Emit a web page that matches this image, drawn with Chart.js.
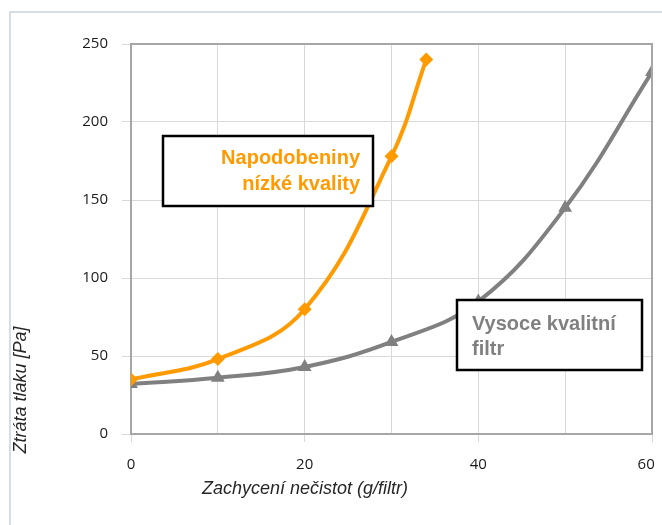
<!DOCTYPE html>
<html>
<head>
<meta charset="utf-8">
<script src="https://cdn.jsdelivr.net/npm/chart.js@4/dist/chart.umd.min.js"></script>
<style>
  html, body { margin: 0; padding: 0; background: #fff; }
  #wrap { position: relative; width: 662px; height: 525px; }
</style>
</head>
<body>
<div id="wrap"><canvas id="chart" width="662" height="525"></canvas></div>
<script>
// --- data ---
const fakeX = [0, 10, 20, 30, 34];
const fakeLoss = [35, 48, 80, 178, 240];
const goodX = [0, 10, 20, 30, 40, 50, 60];
const goodLoss = [32, 36, 43, 59, 85, 145, 232];
const xTickLabels = [0, 20, 40, 60];
const yTickLabels = [0, 50, 100, 150, 200, 250];

const fakeLabel = ["Napodobeniny", "nízké kvality"];
const goodLabel = ["Vysoce kvalitní", "filtr"];
const xTitle = "Zachycení nečistot (g/filtr)";
const yTitle = "Ztráta tlaku [Pa]";

const ORANGE = "#ff9a00";
const GREY = "#808080";
const GRID = "#d9d9d9";
const FRAME = "#a6a6a6";

function toPoints(xs, ys) {
  return xs.map(function (x, i) { return { x: x, y: ys[i] }; });
}

// frame, plot border, note boxes and axis titles
const decor = {
  id: "decor",
  beforeDraw(chart) {
    const ctx = chart.ctx;
    ctx.save();
    ctx.strokeStyle = "#d6dde4";
    ctx.lineWidth = 2;
    ctx.beginPath();
    ctx.moveTo(10, 525);
    ctx.lineTo(10, 12);
    ctx.lineTo(662, 12);
    ctx.stroke();
    ctx.restore();
  },
  afterDatasetsDraw(chart) {
    const ctx = chart.ctx;
    const a = chart.chartArea;
    ctx.save();
    // top + right plot border
    ctx.strokeStyle = FRAME;
    ctx.lineWidth = 2;
    ctx.beginPath();
    ctx.moveTo(a.left, a.top);
    ctx.lineTo(a.right, a.top);
    ctx.lineTo(a.right, a.bottom);
    ctx.stroke();

    function box(x, y, w, h) {
      ctx.fillStyle = "#fff";
      ctx.fillRect(x, y, w, h);
      ctx.strokeStyle = "#000";
      ctx.lineWidth = 2.5;
      ctx.strokeRect(x, y, w, h);
    }
    ctx.font = "bold 20px 'Liberation Sans', Arial, sans-serif";
    ctx.textBaseline = "middle";

    box(163, 136, 210, 70);
    ctx.fillStyle = ORANGE;
    ctx.textAlign = "right";
    ctx.fillText(fakeLabel[0], 360, 158);
    ctx.fillText(fakeLabel[1], 360, 184);

    box(457, 300, 185, 70);
    ctx.fillStyle = GREY;
    ctx.textAlign = "left";
    ctx.fillText(goodLabel[0], 472, 324);
    ctx.fillText(goodLabel[1], 472, 349);

    // axis titles
    ctx.fillStyle = "#262626";
    ctx.font = "italic 18px 'Liberation Sans', Arial, sans-serif";
    ctx.textAlign = "left";
    ctx.fillText(xTitle, 202, 489);
    ctx.translate(21, 390);
    ctx.rotate(-Math.PI / 2);
    ctx.textAlign = "center";
    ctx.fillText(yTitle, 0, 0);
    ctx.restore();
  }
};

const tickFont = { family: "'Open Sans', sans-serif", size: 15 };

new Chart(document.getElementById("chart"), {
  type: "line",
  data: {
    datasets: [
      {
        label: fakeLabel.join(" "),
        data: toPoints(fakeX, fakeLoss),
        borderColor: ORANGE,
        backgroundColor: ORANGE,
        borderWidth: 4,
        pointStyle: "rectRot",
        pointRadius: 7,
        pointBorderWidth: 0,
        tension: 0.4,
        order: 1
      },
      {
        label: goodLabel.join(" "),
        data: toPoints(goodX, goodLoss),
        borderColor: GREY,
        backgroundColor: GREY,
        borderWidth: 4,
        pointStyle: "triangle",
        pointRadius: 8,
        pointBorderWidth: 0,
        tension: 0.4,
        order: 2
      }
    ]
  },
  options: {
    responsive: false,
    devicePixelRatio: 1,
    animation: false,
    layout: { padding: { left: 0, top: 44, right: 10, bottom: 0 } },
    plugins: { legend: { display: false }, tooltip: { enabled: false } },
    scales: {
      x: {
        type: "linear",
        min: 0,
        max: 60,
        ticks: {
          stepSize: 10,
          autoSkip: false,
          maxRotation: 0,
          padding: 14,
          color: "#1a1a1a",
          font: tickFont,
          callback: function (v) {
            if (!xTickLabels.includes(v)) return "";
            // last label sits a bit inside the edge, like the original
            return v === xTickLabels[xTickLabels.length - 1] ? v + "   " : String(v);
          }
        },
        grid: {
          color: GRID,
          tickLength: 8,
          tickColor: function (c) {
            return c.tick && xTickLabels.includes(c.tick.value) ? GRID : "rgba(0,0,0,0)";
          }
        },
        border: { color: FRAME, width: 2 },
        afterFit: function (s) {
          s.height = 91;
          s.paddingLeft = 0;
          s.paddingRight = 0;
        }
      },
      y: {
        min: 0,
        max: 250,
        ticks: {
          stepSize: 50,
          padding: 14,
          color: "#1a1a1a",
          font: tickFont,
          callback: function (v) { return yTickLabels.includes(v) ? String(v) : ""; }
        },
        grid: { color: GRID, tickLength: 9 },
        border: { color: FRAME, width: 2 },
        afterFit: function (s) {
          s.width = 131;
          s.paddingTop = 0;
          s.paddingBottom = 0;
        }
      }
    }
  },
  plugins: [decor]
});
</script>
</body>
</html>
